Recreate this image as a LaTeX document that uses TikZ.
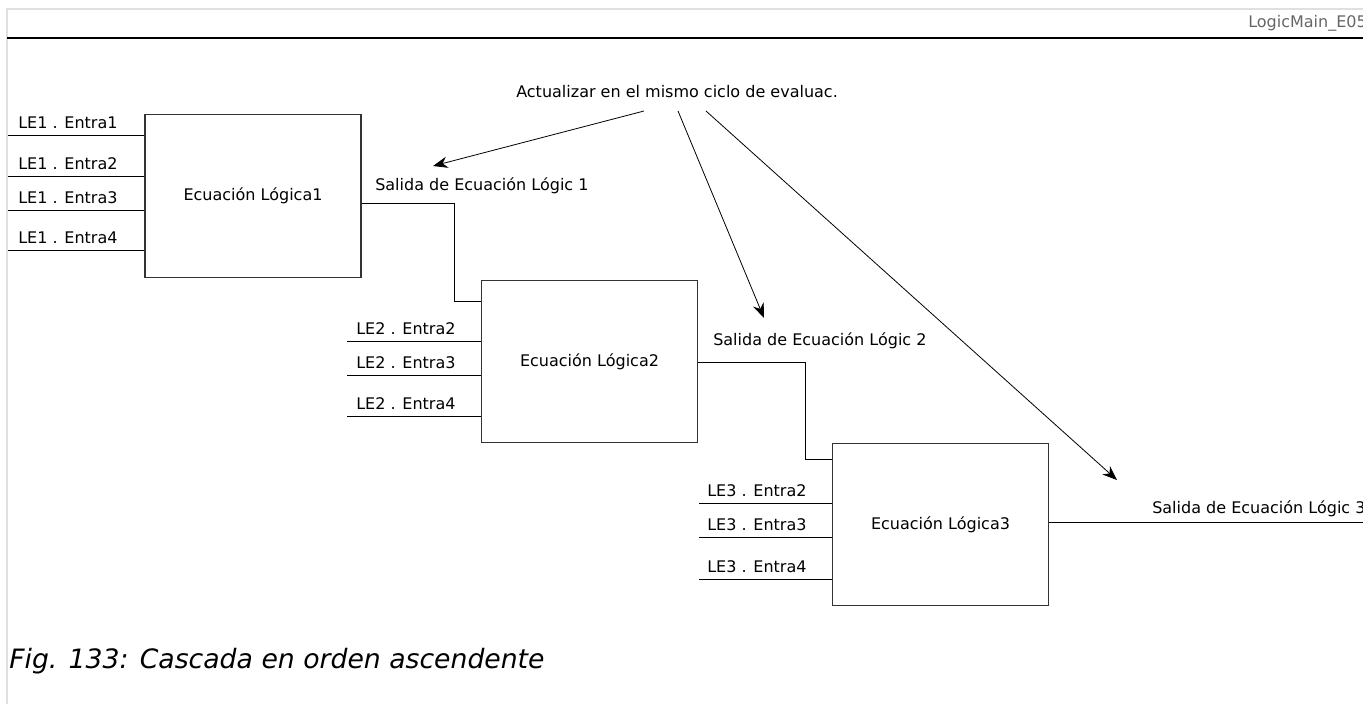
\documentclass[tikz,border=0pt]{standalone}
\usepackage{fontspec}
\setmainfont{DejaVu Sans}
\usetikzlibrary{arrows.meta}

\tikzset{
	ecuacion/.style={draw=black!80, line width=0.9pt, minimum width=162pt, minimum height=122pt, inner sep=0pt, font=\fontsize{12}{14}\selectfont},
	etiqueta/.style={anchor=base west, inner sep=0pt, font=\fontsize{12}{14}\selectfont},
	senal/.style={line width=0.7pt},
	flecha/.style={-{Stealth[length=11pt,width=8.5pt]}, line width=0.6pt}
}

\begin{document}
\begin{tikzpicture}[x=0.75pt, y=-0.75pt]
\clip (0,0) rectangle (1363,704);

% Marco
	\draw[black!12, line width=1.5pt] (7,704) -- (7,8.5) -- (1363,8.5);
	\draw[line width=2pt] (7,38) -- (1363,38);
	\node[etiqueta, text=black!60] (ref) at (1248,27) {LogicMain\_E05};

% Ecuaciones
\node[ecuacion] (E1) at (253,196) {Ecuación Lógica1};
\node[ecuacion] (E2) at (589.5,361.5) {Ecuación Lógica2};
\node[ecuacion] (E3) at (940.5,524.5) {Ecuación Lógica3};

% Entradas
	\foreach \y/\n in {135/1, 176/2, 210/3, 250/4}{
		\coordinate (a1\n) at (8,\y);
		\draw[senal] (a1\n) -- (a1\n -| E1.west);
		\node[etiqueta] (t1\n) at (18,\y-6.5) {LE1 . Entra\n};
	}
	\foreach \y/\n in {341/2, 375/3, 416/4}{
		\coordinate (a2\n) at (347,\y);
		\draw[senal] (a2\n) -- (a2\n -| E2.west);
		\node[etiqueta] (t2\n) at (356,\y-6.5) {LE2 . Entra\n};
	}
	\foreach \y/\n in {503/2, 537/3, 579/4}{
		\coordinate (a3\n) at (699,\y);
		\draw[senal] (a3\n) -- (a3\n -| E3.west);
		\node[etiqueta] (t3\n) at (707,\y-6.5) {LE3 . Entra\n};
	}

% Salidas
\coordinate (k1) at (454,301);
\coordinate (k2) at (805,459);
\coordinate (k3) at (1363,522);
\draw[senal] (E1.east |- 0,203) -| (k1) -- (k1 -| E2.west);
\draw[senal] (E2.east |- 0,362) -| (k2) -- (k2 -| E3.west);
\draw[senal] (E3.east |- k3) -- (k3);
\node[etiqueta] (s1) at (375,190) {Salida de Ecuación Lógic 1};
\node[etiqueta] (s2) at (713,345) {Salida de Ecuación Lógic 2};
\node[etiqueta] (s3) at (1152,513) {Salida de Ecuación Lógic 3};

% Actualizar
\node[etiqueta] (act) at (516,97) {Actualizar en el mismo ciclo de evaluac.};
	\foreach \x/\u/\v/\i in {644/433/166/1, 678/764/318/2, 706/1117/480/3}{
		\coordinate (p\i) at (\x,111);
		\coordinate (q\i) at (\u,\v);
		\draw[flecha] (p\i) -- (q\i);
	}

\node[anchor=base west, inner sep=0pt, font=\fontsize{20}{24}\selectfont\itshape] (fig) at (9,668) {Fig. 133: Cascada en orden ascendente};
\end{tikzpicture}
\end{document}
